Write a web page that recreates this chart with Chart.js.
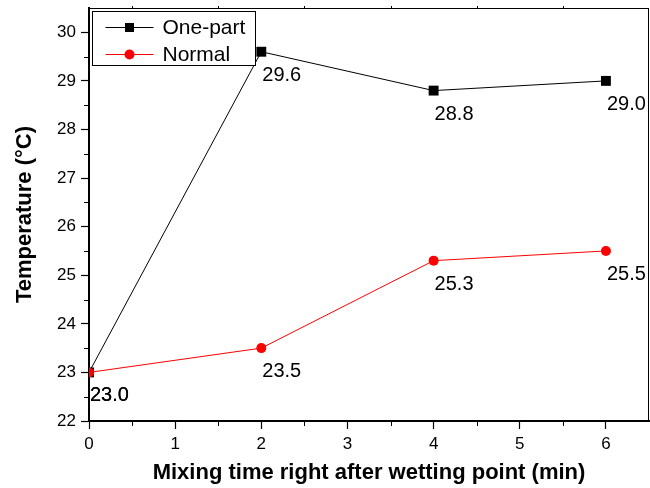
<!DOCTYPE html>
<html>
<head>
<meta charset="utf-8">
<script src="https://cdn.jsdelivr.net/npm/chart.js@4/dist/chart.umd.min.js"></script>
<style>
  html, body { margin: 0; padding: 0; background: #fff; }
  #wrap { width: 650px; height: 488px; }
</style>
</head>
<body>
<div id="wrap"><canvas id="myChart" width="650" height="488"></canvas></div>
<script>
// data
var mixTime = [0, 2, 4, 6];
var onePart = [23.0, 29.6, 28.8, 29.0];
var normal = [23.0, 23.5, 25.3, 25.5];
var seriesNames = ["One-part", "Normal"];
var xTitle = "Mixing time right after wetting point (min)";
var yTitle = "Temperature (\u00B0C)";

var FONT = "'Liberation Sans', Arial, sans-serif";
Chart.defaults.color = "#000";
Chart.defaults.font.family = FONT;

function toPoints(ys) {
  return mixTime.map(function(x, i) { return {x: x, y: ys[i]}; });
}

// minor ticks, frame and value labels
var extras = {
  id: "extras",
  afterDatasetsDraw: function(chart) {
    var ctx = chart.ctx, a = chart.chartArea;
    var sx = chart.scales.x, sy = chart.scales.y;
    ctx.save();
    ctx.strokeStyle = "#000";
    ctx.lineWidth = 1;
    // frame top and right
    ctx.beginPath();
    ctx.moveTo(a.left, a.top + 0.5); ctx.lineTo(a.right, a.top + 0.5);
    ctx.moveTo(a.right - 0.5, a.top); ctx.lineTo(a.right - 0.5, a.bottom);
    ctx.stroke();
    // minor ticks
    ctx.beginPath();
    for (var v = 0.5; v < 6.5; v += 1) {
      var px = Math.round(sx.getPixelForValue(v)) + 0.5;
      ctx.moveTo(px, a.bottom); ctx.lineTo(px, a.bottom + 5);
      ctx.moveTo(px, a.top); ctx.lineTo(px, a.top - 2);
    }
    for (var w = 22.5; w < 30.5; w += 1) {
      var py = Math.round(sy.getPixelForValue(w)) + 0.5;
      ctx.moveTo(a.left, py); ctx.lineTo(a.left - 5, py);
    }
    ctx.stroke();
    // value labels
    ctx.fillStyle = "#000";
    ctx.font = "20px " + FONT;
    ctx.textAlign = "left";
    ctx.textBaseline = "alphabetic";
    chart.data.datasets.forEach(function(ds, di) {
      var meta = chart.getDatasetMeta(di);
      meta.data.forEach(function(pt, i) {
        ctx.fillText(ds.data[i].y.toFixed(1), pt.x + 1, pt.y + 29);
      });
    });
    ctx.restore();
  },
  afterDraw: function(chart) {
    // legend box inside the plot
    var ctx = chart.ctx, a = chart.chartArea;
    var bx = a.left + 3.5, by = a.top + 3.5, bw = 163, bh = 54;
    ctx.save();
    ctx.fillStyle = "#fff";
    ctx.fillRect(bx, by, bw, bh);
    ctx.strokeStyle = "#000";
    ctx.lineWidth = 1;
    ctx.strokeRect(bx, by, bw, bh);
    var rows = [
      {name: seriesNames[0], color: "#000", style: "rect"},
      {name: seriesNames[1], color: "#ff0000", style: "circle"}
    ];
    rows.forEach(function(r, i) {
      var y = by + 16 + i * 27;
      ctx.strokeStyle = r.color;
      ctx.beginPath();
      ctx.moveTo(bx + 13, y); ctx.lineTo(bx + 61, y);
      ctx.stroke();
      ctx.fillStyle = r.color;
      if (r.style === "rect") {
        ctx.fillRect(bx + 37 - 4.5, y - 4.5, 9, 9);
      } else {
        ctx.beginPath(); ctx.arc(bx + 37, y, 5, 0, Math.PI * 2); ctx.fill();
      }
      ctx.fillStyle = "#000";
      ctx.font = "21px " + FONT;
      ctx.textBaseline = "middle";
      ctx.fillText(r.name, bx + 70, y + 1);
    });
    ctx.restore();
  }
};

new Chart(document.getElementById("myChart"), {
  type: "line",
  data: {
    datasets: [{
      label: seriesNames[0],
      data: toPoints(onePart),
      borderColor: "#000",
      backgroundColor: "#000",
      borderWidth: 1,
      pointStyle: "rect",
      pointRadius: 7,
      pointBorderWidth: 0,
      order: 1
    }, {
      label: seriesNames[1],
      data: toPoints(normal),
      borderColor: "#ff0000",
      backgroundColor: "#ff0000",
      borderWidth: 1,
      pointStyle: "circle",
      pointRadius: 5,
      pointBorderWidth: 0,
      order: 0
    }]
  },
  options: {
    responsive: false,
    animation: false,
    layout: { autoPadding: false, padding: { top: 8, right: 1, left: 0, bottom: 0 } },
    plugins: { legend: { display: false }, tooltip: { enabled: false } },
    scales: {
      x: {
        type: "linear",
        min: 0, max: 6.5,
        afterFit: function(s) { s.height = 67; s.paddingLeft = 0; s.paddingRight = 0; },
        ticks: { stepSize: 1, includeBounds: false, padding: 5, font: { size: 17 }, maxRotation: 0 },
        grid: { drawOnChartArea: false, tickLength: 8, tickColor: "#000", tickWidth: 1.2 },
        border: { display: true, color: "#000", width: 2 },
        title: { display: true, text: xTitle, font: { size: 22, weight: "bold" }, padding: { top: 0, bottom: 2 } }
      },
      y: {
        min: 22, max: 30.5,
        afterFit: function(s) { s.width = 89; s.paddingTop = 0; s.paddingBottom = 0; },
        ticks: { stepSize: 1, includeBounds: false, padding: 5, font: { size: 17 } },
        grid: { drawOnChartArea: false, tickLength: 8, tickColor: "#000", tickWidth: 1.2 },
        border: { display: true, color: "#000", width: 2 },
        title: { display: true, text: yTitle, font: { size: 22, weight: "bold" }, padding: { top: 12, bottom: 0 } }
      }
    }
  },
  plugins: [extras]
});
</script>
</body>
</html>
